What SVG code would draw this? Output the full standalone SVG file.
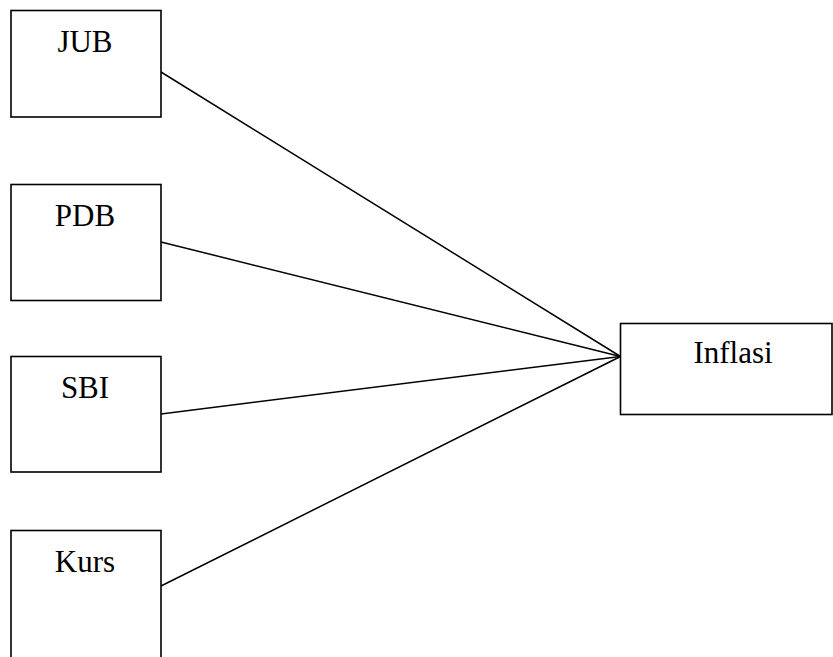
<svg xmlns="http://www.w3.org/2000/svg" width="833" height="657" viewBox="0 0 833 657">
<style>
.box{fill:#fff;stroke:#000;stroke-width:1.6}
.lbl{font-family:"Liberation Serif","Times New Roman",serif;font-size:31px;fill:#000;text-anchor:middle}
.edge{stroke:#000;stroke-width:1.5;fill:none}
</style>
<rect width="833" height="657" fill="#fff"/>
<g id="connectors">
<line class="edge" x1="161" y1="72" x2="620.5" y2="356.5"/>
<line class="edge" x1="161" y1="242" x2="620.5" y2="356.5"/>
<line class="edge" x1="161" y1="414" x2="620.5" y2="356.5"/>
<line class="edge" x1="161" y1="586" x2="620.5" y2="356.5"/>
</g>
<g id="JUB">
<rect class="box" x="11" y="10.5" width="150" height="106.5"/>
<text class="lbl" x="85" y="51.5">JUB</text>
</g>
<g id="PDB">
<rect class="box" x="11" y="184.5" width="150" height="116"/>
<text class="lbl" x="85" y="225.5">PDB</text>
</g>
<g id="SBI">
<rect class="box" x="11" y="356.5" width="150" height="115.5"/>
<text class="lbl" x="85" y="397.5">SBI</text>
</g>
<g id="Kurs">
<rect class="box" x="11" y="530.5" width="150" height="140"/>
<text class="lbl" x="85" y="571.5">Kurs</text>
</g>
<g id="Inflasi">
<rect class="box" x="620.5" y="323.5" width="211.5" height="91"/>
<text class="lbl" x="733" y="363">Inflasi</text>
</g>
</svg>
